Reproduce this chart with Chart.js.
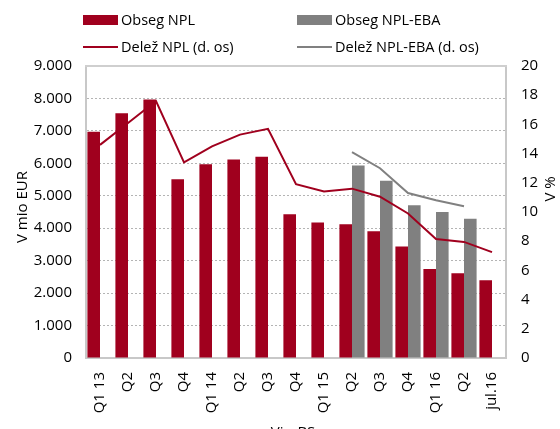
<!DOCTYPE html>
<html><head><meta charset="utf-8">
<script src="https://cdn.jsdelivr.net/npm/chart.js@4"></script>
<style>html,body{margin:0;padding:0;background:#fff}#wrap{width:560px;height:429px;position:relative}</style>
</head><body><div id="wrap"><canvas id="c" width="560" height="429"></canvas></div>
<script>
const categories = ['Q1 13','Q2','Q3','Q4','Q1 14','Q2','Q3','Q4','Q1 15','Q2','Q3','Q4','Q1 16','Q2','jul.16'];
const obsegNPL = [6970,7540,7970,5510,5970,6120,6200,4430,4180,4120,3910,3440,2740,2610,2400];
const obsegNPLEBA = [null,null,null,null,null,null,null,null,null,5930,5460,4710,4500,4290,null];
const delezNPL = [14.6,16.1,17.6,13.4,14.5,15.3,15.7,11.9,11.4,11.6,11.05,9.9,8.15,7.95,7.25];
const delezNPLEBA = [null,null,null,null,null,null,null,null,null,14.1,13.0,11.3,10.8,10.4,null];
const seriesNames = ['Obseg NPL','Obseg NPL-EBA','Delež NPL (d. os)','Delež NPL-EBA (d. os)'];
const leftTitle = 'V mio EUR';
const rightTitle = 'V %';
const sourceNote = 'Vir: BS';

const RED = '#A0001E';
const GRAY = '#808080';
const FONT = '"Open Sans", "Noto Sans", sans-serif';

const decor = {
  id: 'decor',
  afterDraw(chart) {
    const ctx = chart.ctx, a = chart.chartArea;
    ctx.save();
    ctx.strokeStyle = '#cfcfcf'; ctx.lineWidth = 2;
    ctx.beginPath(); ctx.moveTo(a.left - 1, a.top); ctx.lineTo(a.right + 1, a.top); ctx.stroke();
    const ds = chart.data.datasets;
    ctx.font = '14.5px ' + FONT; ctx.textBaseline = 'middle'; ctx.textAlign = 'left'; ctx.fillStyle = '#000';
    const items = [
      {d: ds[0], x: 83, y: 20, box: true},
      {d: ds[1], x: 297, y: 20, box: true},
      {d: ds[2], x: 83, y: 47, box: false},
      {d: ds[3], x: 297, y: 47, box: false}
    ];
    items.forEach(it => {
      if (it.box) { ctx.fillStyle = it.d.backgroundColor; ctx.fillRect(it.x, it.y - 5, 35, 10); }
      else { ctx.strokeStyle = it.d.borderColor; ctx.lineWidth = 2; ctx.beginPath(); ctx.moveTo(it.x, it.y); ctx.lineTo(it.x + 35, it.y); ctx.stroke(); }
      ctx.fillStyle = '#000';
      ctx.fillText(it.d.label, it.x + 38, it.y + 1);
    });
    ctx.font = '15px ' + FONT;
    ctx.textAlign = 'center';
    ctx.save(); ctx.translate(23, 207); ctx.rotate(-Math.PI / 2); ctx.fillText(leftTitle, 0, 0); ctx.restore();
    ctx.save(); ctx.translate(551, 189); ctx.rotate(-Math.PI / 2); ctx.fillText(rightTitle, 0, 0); ctx.restore();
    ctx.textBaseline = 'alphabetic';
    ctx.fillText(sourceNote, 293, 437);
    ctx.restore();
  }
};

new Chart(document.getElementById('c'), {
  data: {
    labels: categories,
    datasets: [
      {type: 'bar', label: seriesNames[0], data: obsegNPL, backgroundColor: RED, yAxisID: 'y', order: 2, categoryPercentage: 0.9, barPercentage: 1.0},
      {type: 'bar', label: seriesNames[1], data: obsegNPLEBA, backgroundColor: GRAY, yAxisID: 'y', order: 2, categoryPercentage: 0.9, barPercentage: 1.0},
      {type: 'line', label: seriesNames[2], data: delezNPL, borderColor: RED, backgroundColor: RED, borderWidth: 2, pointRadius: 0, tension: 0, yAxisID: 'y1', order: 1},
      {type: 'line', label: seriesNames[3], data: delezNPLEBA, borderColor: GRAY, backgroundColor: GRAY, borderWidth: 2, pointRadius: 0, tension: 0, yAxisID: 'y1', order: 1}
    ]
  },
  options: {
    responsive: false,
    devicePixelRatio: 1,
    animation: false,
    layout: {padding: {top: 66, left: 0, right: 0, bottom: 0}},
    plugins: {legend: {display: false}, tooltip: {enabled: false}},
    scales: {
      x: {
        grid: {display: false, drawTicks: false},
        border: {display: true, color: '#c8c8c8', width: 2},
        ticks: {color: '#000', font: {family: FONT, size: 15}, minRotation: 90, maxRotation: 90, autoSkip: false, padding: 14},
        afterFit(s) { s.height = 71; }
      },
      y: {
        position: 'left', min: 0, max: 9000,
        grid: {color: '#b4b4b4', drawTicks: false, lineWidth: 1},
        border: {display: true, color: '#c8c8c8', width: 2, dash: [2, 2]},
        ticks: {stepSize: 1000, color: '#000', font: {family: FONT, size: 15}, padding: 14,
          callback: v => v === 0 ? '0' : (v / 1000).toFixed(0) + '.000'},
        afterFit(s) { s.width = 86; }
      },
      y1: {
        position: 'right', min: 0, max: 20,
        grid: {display: false, drawTicks: false},
        border: {display: true, color: '#c8c8c8', width: 2},
        ticks: {stepSize: 2, color: '#000', font: {family: FONT, size: 15}, padding: 15},
        afterFit(s) { s.width = 54; }
      }
    }
  },
  plugins: [decor]
});
</script>
</body></html>
